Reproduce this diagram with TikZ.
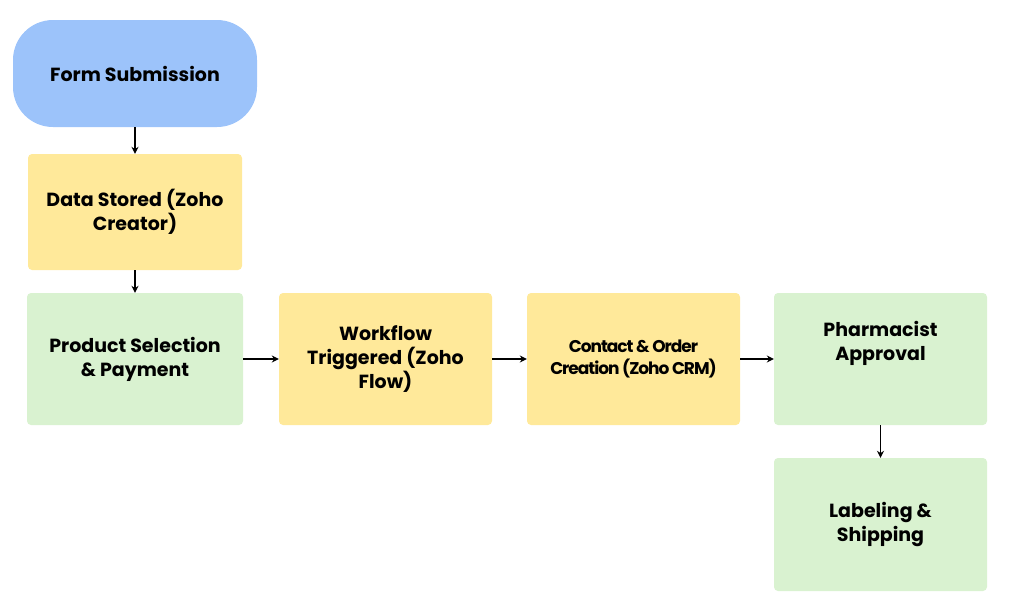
\documentclass[tikz,border=0pt]{standalone}
\usepackage{fontspec}
\setmainfont{Poppins}[BoldFont={* Bold}]
\usetikzlibrary{arrows.meta}
\definecolor{cblue}{HTML}{9CC3FA}
\definecolor{cyel}{HTML}{FFE99A}
\definecolor{cgrn}{HTML}{D9F2D0}
\begin{document}
\begin{tikzpicture}[x=1pt,y=-1pt,
 box/.style={draw=none,rounded corners=4pt,align=center,font=\fontsize{19}{24}\selectfont\bfseries,inner sep=0pt},
 arr/.style={-{Stealth[length=7pt,width=7pt]},line width=1.6pt}]
\useasboundingbox (0,0) rectangle (1012,611);
\node[box,fill=cblue,rounded corners=40pt,minimum width=244pt,minimum height=107pt] (a) at (135,73.5) {Form Submission};
\node[box,fill=cyel,minimum width=214pt,minimum height=116pt] (b) at (135,212) {Data Stored (Zoho\\Creator)};
\node[box,fill=cgrn,minimum width=216pt,minimum height=132pt] (c) at (135,359) {Product Selection\\\& Payment};
\node[box,fill=cyel,minimum width=213pt,minimum height=132pt] (d) at (385.5,359) {Workflow\\Triggered (Zoho\\Flow)};
\node[box,fill=cyel,minimum width=213pt,minimum height=132pt,font=\fontsize{17}{22}\selectfont\bfseries\addfontfeatures{LetterSpace=-6}] (e) at (633.5,359) {Contact \& Order\\Creation (Zoho CRM)};
\node[box,fill=cgrn,minimum width=213pt,minimum height=132pt] (f) at (880.5,359) {Pharmacist\\Approval\\[12pt]};
\node[box,fill=cgrn,minimum width=213pt,minimum height=133pt] (g) at (880.5,524.5) {Labeling \&\\Shipping};
\draw[arr] (a) -- (b);
\draw[arr] (b) -- (c);
\draw[arr] (c) -- (d);
\draw[arr] (d) -- (e);
\draw[arr] (e) -- (f);
\draw[arr] (f) -- (g);
\end{tikzpicture}
\end{document}
